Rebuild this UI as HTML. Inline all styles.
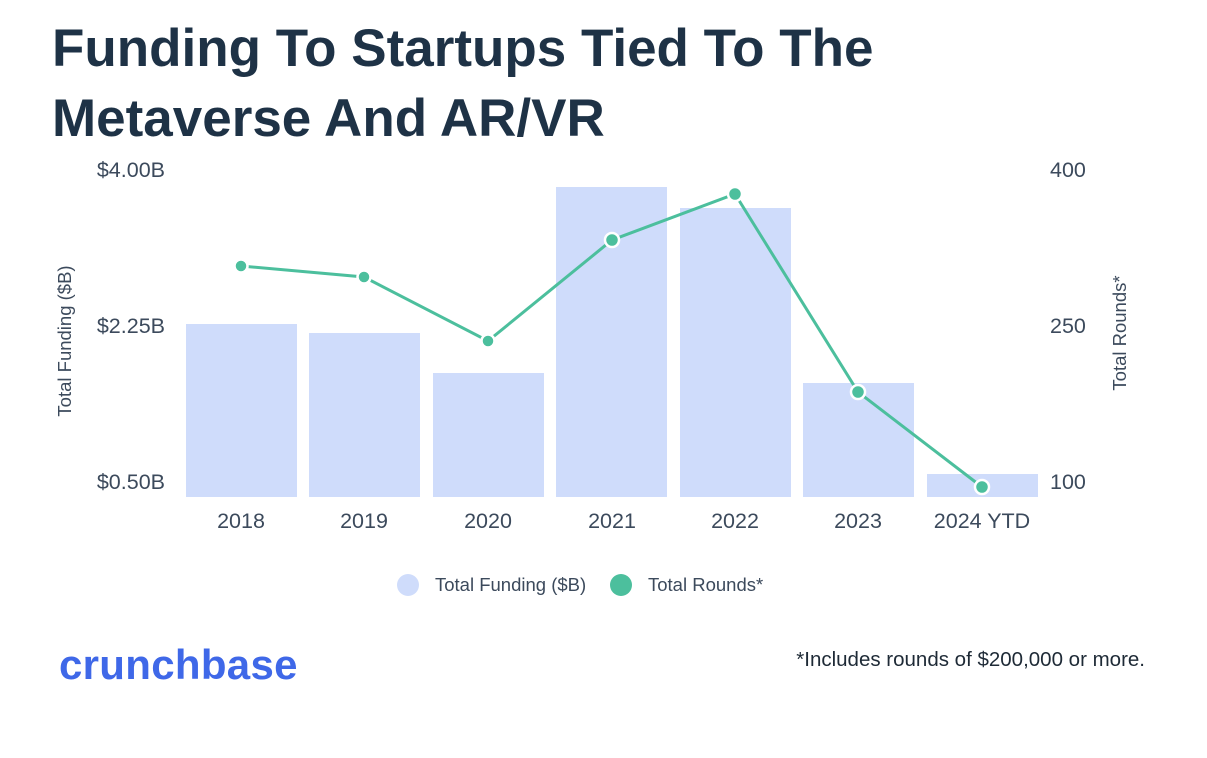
<!DOCTYPE html>
<html><head><meta charset="utf-8"><style>
html,body{margin:0;padding:0;background:#fff;}
body{width:1207px;height:758px;overflow:hidden;position:relative;font-family:"Liberation Sans",sans-serif;}
.t{position:absolute;left:52px;top:14px;font-size:53px;font-weight:bold;color:#1e3246;line-height:70px;letter-spacing:0px;}
</style></head><body>
<div class="t">Funding To Startups Tied To The<br>Metaverse And AR/VR</div>
<svg width="1207" height="758" style="position:absolute;left:0;top:0" font-family="Liberation Sans, sans-serif">
<g fill="#cfdcfb">
<rect x="186" y="324" width="111" height="173"/>
<rect x="309" y="333" width="111" height="164"/>
<rect x="433" y="373" width="111" height="124"/>
<rect x="556" y="187" width="111" height="310"/>
<rect x="680" y="208" width="111" height="289"/>
<rect x="803" y="383" width="111" height="114"/>
<rect x="927" y="474" width="111" height="23"/>
</g>
<polyline fill="none" stroke="#4cbf9d" stroke-width="3" points="241,266 364,277 488,341 612,240 735,194 858,392 982,487"/>
<g fill="#4cbf9d" stroke="#fff" stroke-width="2.5">
<circle cx="241" cy="266" r="6.5"/><circle cx="364" cy="277" r="6.5"/><circle cx="488" cy="341" r="6.5"/><circle cx="612" cy="240" r="7"/><circle cx="735" cy="194" r="7"/><circle cx="858" cy="392" r="7"/><circle cx="982" cy="487" r="7"/>
</g>
<g font-size="21.5" fill="#3c4a5c">
<text x="165" y="177" text-anchor="end">$4.00B</text>
<text x="165" y="333" text-anchor="end">$2.25B</text>
<text x="165" y="489" text-anchor="end">$0.50B</text>
<text x="1050" y="177">400</text>
<text x="1050" y="333">250</text>
<text x="1050" y="489">100</text>
<g text-anchor="middle">
<text x="241" y="528">2018</text><text x="364" y="528">2019</text><text x="488" y="528">2020</text><text x="612" y="528">2021</text><text x="735" y="528">2022</text><text x="858" y="528">2023</text><text x="982" y="528">2024 YTD</text>
</g>
</g>
<text transform="translate(71,341) rotate(-90)" text-anchor="middle" font-size="18.5" fill="#3c4a5c">Total Funding ($B)</text>
<text transform="translate(1126,333) rotate(-90)" text-anchor="middle" font-size="18.5" fill="#3c4a5c">Total Rounds*</text>
<circle cx="408" cy="585" r="11" fill="#cfdcfb"/>
<text x="435" y="591" font-size="18.5" fill="#3c4a5c">Total Funding ($B)</text>
<circle cx="621" cy="585" r="11" fill="#4cbf9d"/>
<text x="648" y="591" font-size="18.5" fill="#3c4a5c">Total Rounds*</text>
<text x="59" y="679" font-size="42" font-weight="bold" fill="#3f68e8" letter-spacing="0.3">crunchbase</text>
<text x="1145" y="666" text-anchor="end" font-size="20.5" fill="#1e2a36">*Includes rounds of $200,000 or more.</text>
</svg>
</body></html>
